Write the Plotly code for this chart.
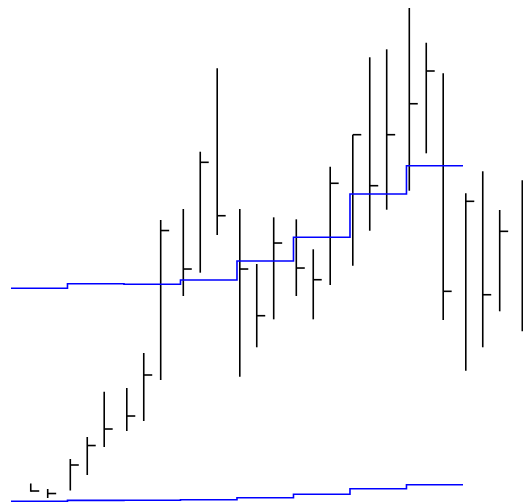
import plotly.graph_objects as go

# ---- data ----
bar_x = [3, 6, 10, 13, 16, 20, 23, 26, 30, 33, 36, 40, 43, 46, 50, 53, 56,
         60, 63, 66, 70, 73, 76, 80, 83, 86, 90]
high = [3.69, 2.59, 8.57, 12.95, 21.97, 22.71, 29.68, 56.18, 58.37, 69.78, 86.39,
        58.37, 47.41, 56.71, 56.31, 50.34, 66.79, 73.17, 88.59, 90.18, 98.94,
        91.49, 85.40, 61.49, 65.88, 58.17, 64.08]
low = [2.05, 0.80, 2.29, 5.38, 10.96, 14.14, 16.14, 24.30, 41.04, 45.68, 53.19,
       24.96, 30.82, 36.39, 41.04, 36.39, 43.23, 47.07, 54.04, 58.23, 62.01,
       69.46, 36.25, 26.16, 30.82, 37.99, 34.00]
close = [2.19, 1.69, 7.37, 11.25, 14.54, 17.13, 25.30, 54.08, 46.41, 67.67, 57.03,
         46.41, 37.11, 51.59, 46.61, 44.28, 63.49, 73.17, 63.01, 73.17, 79.34,
         85.86, 41.97, 59.90, 41.29, 53.92, 35.32]

week_start = [-0.5, 9.5, 19.5, 29.5, 39.5, 49.5, 59.5, 69.5]
week_end = 79.5
weekly_upper = [42.57, 43.49, 43.37, 44.22, 48.01, 52.73, 61.35, 66.99]
weekly_lower = [0.14, 0.32, 0.36, 0.46, 0.86, 1.53, 2.65, 3.45]

TICK = 1.5

# ---- bar paths ----
px, py = [], []
for x, h, l, c in zip(bar_x, high, low, close):
    px += [x, x, None, x, x + TICK, None]
    py += [h, l, None, c, c, None]

fig = go.Figure()
fig.add_trace(go.Scatter(x=px, y=py, mode="lines",
                         line=dict(color="black", width=1.6),
                         hoverinfo="skip", connectgaps=False))

wx = week_start + [week_end]
fig.add_trace(go.Scatter(x=wx, y=weekly_upper + [weekly_upper[-1]], mode="lines",
                         line=dict(color="blue", width=1.6, shape="hv")))
fig.add_trace(go.Scatter(x=wx, y=weekly_lower + [weekly_lower[-1]], mode="lines",
                         line=dict(color="blue", width=1.6, shape="hv")))

fig.update_layout(
    width=523, height=494,
    margin=dict(l=0, r=0, t=0, b=0),
    paper_bgcolor="white", plot_bgcolor="white",
    showlegend=False,
    xaxis=dict(range=[-1.027, 91.54], visible=False),
    yaxis=dict(range=[0, 98.41], visible=False),
)
fig.write_html("out.html")
